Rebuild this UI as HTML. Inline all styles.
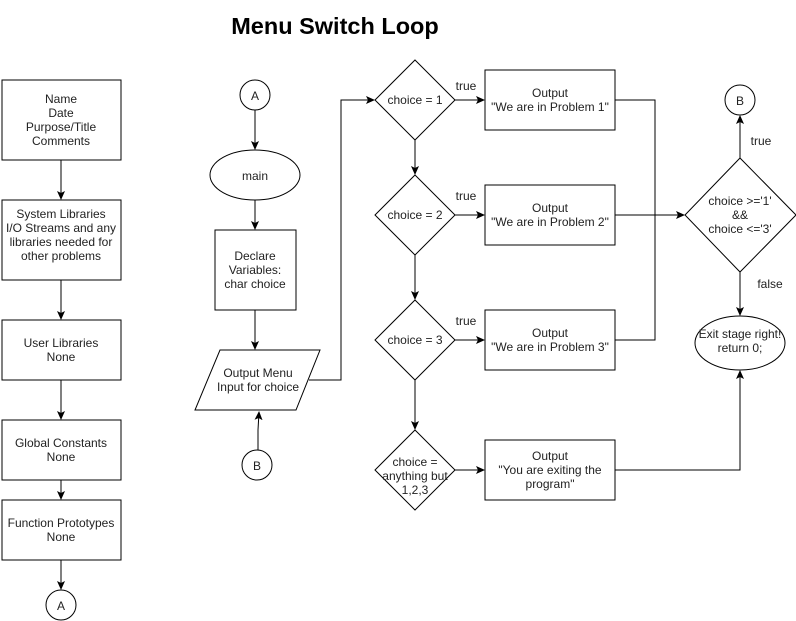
<!DOCTYPE html>
<html><head><style>
body{margin:0;background:#fff;}
svg{display:block;font-family:"Liberation Sans",Arial,sans-serif;}
text{font-size:12px;fill:#222;text-anchor:middle;}
</style></head><body>
<svg width="796" height="621" viewBox="0 0 796 621" xmlns="http://www.w3.org/2000/svg">
<defs><marker id="a" markerWidth="10" markerHeight="10" refX="8" refY="4" orient="auto" markerUnits="userSpaceOnUse"><path d="M0,0 L9,4 L0,8 L2,4 z" fill="#000"/></marker></defs>
<text x="335" y="34" style="font-size:23.5px;font-weight:bold;fill:#000">Menu Switch Loop</text>
<g fill="#fff" stroke="#000" stroke-width="1">
<rect x="2" y="80" width="119" height="80"/>
<rect x="2" y="200" width="119" height="80"/>
<rect x="2" y="320" width="119" height="60"/>
<rect x="2" y="420" width="119" height="60"/>
<rect x="2" y="500" width="119" height="60"/>
<circle cx="61" cy="605" r="15"/>
<circle cx="255" cy="95" r="15"/>
<ellipse cx="255" cy="175" rx="45" ry="25"/>
<rect x="215" y="230" width="81" height="80"/>
<polygon points="220,350 320,350 296,410 195,410"/>
<circle cx="257" cy="465" r="15"/>
<polygon points="415,60 455,100 415,140 375,100"/>
<polygon points="415,175 455,215 415,255 375,215"/>
<polygon points="415,300 455,340 415,380 375,340"/>
<polygon points="415,430 455,470 415,510 375,470"/>
<rect x="485" y="70" width="130" height="60"/>
<rect x="485" y="185" width="130" height="60"/>
<rect x="485" y="310" width="130" height="60"/>
<rect x="485" y="440" width="130" height="60"/>
<polygon points="740,158 796,215 740,272 685,215"/>
<circle cx="740" cy="100" r="15"/>
<ellipse cx="740" cy="343" rx="45" ry="27"/>
</g>
<g stroke="#000" fill="none" stroke-width="1" marker-end="url(#a)">
<line x1="61" y1="160" x2="61" y2="199"/>
<line x1="61" y1="280" x2="61" y2="319"/>
<line x1="61" y1="380" x2="61" y2="419"/>
<line x1="61" y1="480" x2="61" y2="499"/>
<line x1="61" y1="560" x2="61" y2="589"/>
<line x1="255" y1="110" x2="255" y2="149"/>
<line x1="255" y1="200" x2="255" y2="229"/>
<line x1="255" y1="310" x2="255" y2="349"/>
<polyline points="258,450 258,430 259,412"/>
<polyline points="309,380 341,380 341,100 374,100"/>
<line x1="455" y1="100" x2="484" y2="100"/>
<line x1="455" y1="215" x2="484" y2="215"/>
<line x1="455" y1="340" x2="484" y2="340"/>
<line x1="455" y1="470" x2="484" y2="470"/>
<line x1="415" y1="140" x2="415" y2="174"/>
<line x1="415" y1="255" x2="415" y2="299"/>
<line x1="415" y1="380" x2="415" y2="429"/>
<line x1="615" y1="215" x2="684" y2="215"/>
<line x1="740" y1="158" x2="740" y2="116"/>
<line x1="740" y1="272" x2="740" y2="315"/>
<polyline points="615,470 740,470 740,371"/>
</g>
<polyline points="615,100 655,100 655,340 615,340" stroke="#000" fill="none"/>
<text x="61" y="103">Name</text><text x="61" y="117">Date</text><text x="61" y="131">Purpose/Title</text><text x="61" y="145">Comments</text>
<text x="61" y="218">System Libraries</text><text x="61" y="232">I/O Streams and any</text><text x="61" y="246">libraries needed for</text><text x="61" y="260">other problems</text>
<text x="61" y="347">User Libraries</text><text x="61" y="361">None</text>
<text x="61" y="447">Global Constants</text><text x="61" y="461">None</text>
<text x="61" y="527">Function Prototypes</text><text x="61" y="541">None</text>
<text x="61" y="610">A</text>
<text x="255" y="100">A</text>
<text x="255" y="180">main</text>
<text x="255" y="260">Declare</text><text x="255" y="274">Variables:</text><text x="255" y="288">char choice</text>
<text x="258" y="377">Output Menu</text><text x="258" y="391">Input for choice</text>
<text x="257" y="470">B</text>
<text x="415" y="104">choice = 1</text>
<text x="415" y="219">choice = 2</text>
<text x="415" y="344">choice = 3</text>
<text x="415" y="466">choice =</text><text x="415" y="480">anything but</text><text x="415" y="494">1,2,3</text>
<text x="466" y="90">true</text><text x="466" y="200">true</text><text x="466" y="325">true</text>
<text x="550" y="97">Output</text><text x="550" y="111">"We are in Problem 1"</text>
<text x="550" y="212">Output</text><text x="550" y="226">"We are in Problem 2"</text>
<text x="550" y="337">Output</text><text x="550" y="351">"We are in Problem 3"</text>
<text x="550" y="460">Output</text><text x="550" y="474">"You are exiting the</text><text x="550" y="488">program"</text>
<text x="740" y="205">choice &gt;='1'</text><text x="740" y="219">&amp;&amp;</text><text x="740" y="233">choice &lt;='3'</text>
<text x="740" y="105">B</text>
<text x="761" y="145">true</text><text x="770" y="288">false</text>
<text x="740" y="338">Exit stage right!</text><text x="740" y="352">return 0;</text>
</svg>
</body></html>
